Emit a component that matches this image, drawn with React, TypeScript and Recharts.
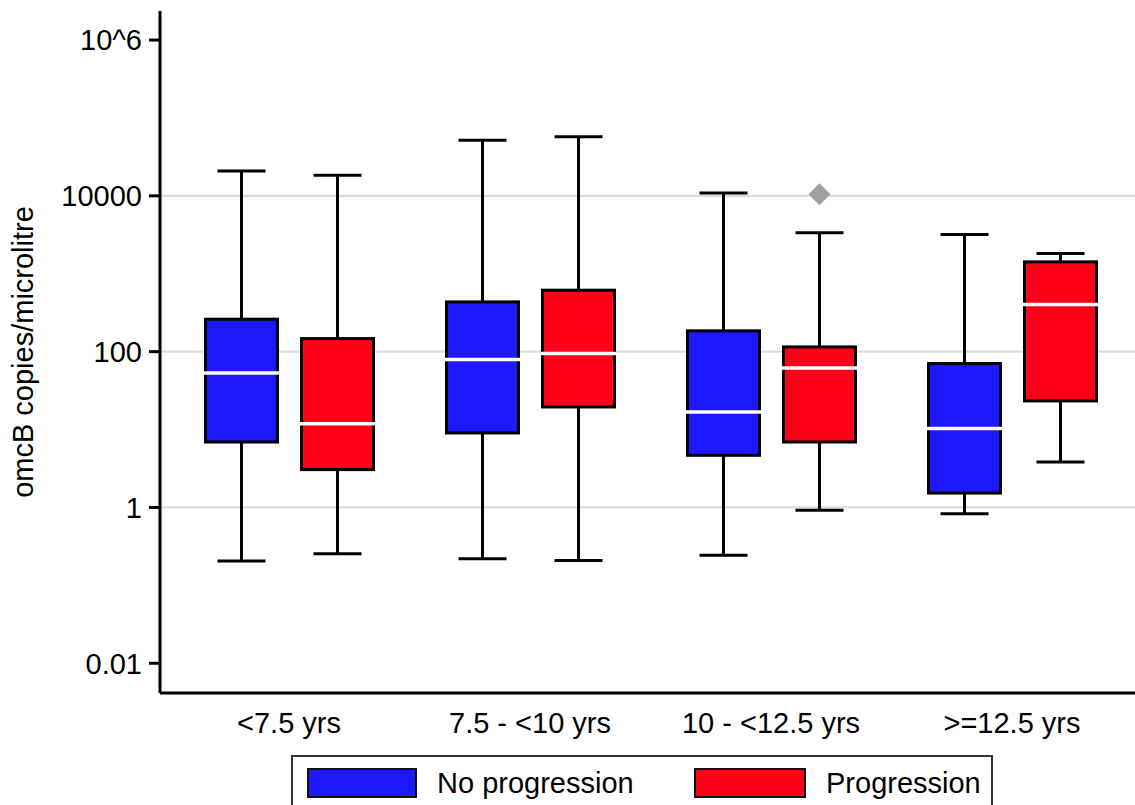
import React from 'react';
import { ComposedChart, Bar, XAxis, YAxis, CartesianGrid } from 'recharts';

const categories = ['<7.5 yrs', '7.5 - <10 yrs', '10 - <12.5 yrs', '>=12.5 yrs'];

const noProgMin = [0.205, 0.22, 0.243, 0.832];
const noProgQ1 = [6.92, 9.04, 4.67, 1.53];
const noProgMedian = [53.2, 79, 16.8, 10.3];
const noProgQ3 = [261, 435, 185, 70.3];
const noProgMax = [20900, 51900, 10900, 3190];
const noProgOutliers: number[][] = [[], [], [], []];

const progMin = [0.255, 0.209, 0.918, 3.83];
const progQ1 = [3.06, 19.5, 6.92, 23.3];
const progMedian = [11.9, 94.4, 61.8, 403];
const progQ3 = [147, 615, 115, 1420];
const progMax = [18400, 57300, 3350, 1820];
const progOutliers: number[][] = [[], [], [10500], []];

const yTicks = [0.01, 1, 100, 10000, 1000000];
const gridValues = [1, 100, 10000];
const yDomain = [0.00415, 2360000];

const seriesNames = ['No progression', 'Progression'];
const BLUE = '#1e18ff';
const RED = '#ff0018';
const FONT = '"Liberation Sans", Arial, Helvetica, sans-serif';

const data = categories.map((c, i) => ({
  category: c,
  np: { min: noProgMin[i], q1: noProgQ1[i], med: noProgMedian[i], q3: noProgQ3[i], max: noProgMax[i], out: noProgOutliers[i] },
  p: { min: progMin[i], q1: progQ1[i], med: progMedian[i], q3: progQ3[i], max: progMax[i], out: progOutliers[i] },
  npRange: [noProgMin[i], noProgMax[i]],
  pRange: [progMin[i], progMax[i]],
}));

const makeBoxShape = (key: 'np' | 'p', color: string) => (props: any) => {
  const { x, y, width, height, payload } = props;
  const s = payload[key];
  const top = Math.min(y, y + height);
  const h = Math.abs(height);
  const lhi = Math.log10(s.max);
  const llo = Math.log10(s.min);
  const py = (v: number) => top + (h * (lhi - Math.log10(v))) / (lhi - llo);
  const cx = x + width / 2;
  const cap = width / 3;
  const sw = 3;
  return (
    <g>
      <line x1={cx} x2={cx} y1={py(s.max)} y2={py(s.q3)} stroke="#000" strokeWidth={sw} />
      <line x1={cx} x2={cx} y1={py(s.q1)} y2={py(s.min)} stroke="#000" strokeWidth={sw} />
      <line x1={cx - cap} x2={cx + cap} y1={py(s.max)} y2={py(s.max)} stroke="#000" strokeWidth={sw} />
      <line x1={cx - cap} x2={cx + cap} y1={py(s.min)} y2={py(s.min)} stroke="#000" strokeWidth={sw} />
      <rect x={x} y={py(s.q3)} width={width} height={py(s.q1) - py(s.q3)} fill={color} stroke="#000" strokeWidth={3} />
      <line x1={x - 1.5} x2={x + width + 1.5} y1={py(s.med)} y2={py(s.med)} stroke="#fff" strokeWidth={3.5} />
      {s.out.map((o: number, k: number) => {
        const oy = py(o);
        const r = 11;
        return (
          <polygon key={k} points={`${cx},${oy - r} ${cx + r},${oy} ${cx},${oy + r} ${cx - r},${oy}`} fill="#a0a0a0" />
        );
      })}
    </g>
  );
};

const YLabel = () => (
  <text
    x={23}
    y={352}
    transform="rotate(-90, 23, 352)"
    textAnchor="middle"
    dominantBaseline="central"
    fontSize={29}
    fontFamily={FONT}
    fill="#000"
  >
    omcB copies/microlitre
  </text>
);

const fmt = (v: number) => (v === 1000000 ? '10^6' : String(v));

export default function App() {
  return (
    <div style={{ position: 'absolute', left: 0, top: 0, width: 1135, height: 805, overflow: 'hidden', background: '#fff' }}>
      <ComposedChart
        width={1150}
        height={805}
        data={data}
        margin={{ top: 11, right: 9, bottom: 52, left: 0 }}
        barGap={24}
      >
        <CartesianGrid vertical={false} horizontalValues={gridValues} stroke="#dcdcdc" strokeWidth={2.2} />
        <XAxis
          dataKey="category"
          type="category"
          padding={{ left: 8.5, right: 8.5 }}
          height={60}
          tickLine={false}
          tickSize={0}
          tickMargin={19}
          axisLine={{ stroke: '#000', strokeWidth: 3 }}
          tick={{ fontSize: 29, fill: '#000', fontFamily: FONT }}
          interval={0}
        />
        <XAxis
          xAxisId="top"
          dataKey="category"
          orientation="top"
          height={0}
          tick={false}
          tickLine={false}
          axisLine={{ stroke: '#000', strokeWidth: 3 }}
        />
        <YAxis
          type="number"
          scale="log"
          domain={yDomain}
          allowDataOverflow
          ticks={yTicks}
          tickFormatter={fmt}
          width={160}
          tickSize={11}
          tickMargin={7}
          tickLine={{ stroke: '#000', strokeWidth: 3 }}
          axisLine={{ stroke: '#000', strokeWidth: 3 }}
          tick={{ fontSize: 29, fill: '#000', fontFamily: FONT }}
          interval={0}
          label={<YLabel />}
        />
        <Bar
          dataKey="npRange"
          name={seriesNames[0]}
          fill={BLUE}
          barSize={72}
          isAnimationActive={false}
          shape={makeBoxShape('np', BLUE)}
        />
        <Bar
          dataKey="pRange"
          name={seriesNames[1]}
          fill={RED}
          barSize={72}
          isAnimationActive={false}
          shape={makeBoxShape('p', RED)}
        />
      </ComposedChart>
      <div
        style={{
          position: 'absolute',
          left: 291,
          top: 755,
          width: 702,
          height: 70,
          border: '2px solid #333',
          boxSizing: 'border-box',
          fontFamily: FONT,
          fontSize: 29,
          color: '#000',
        }}
      >
        <div style={{ position: 'absolute', left: 14, top: 11, width: 110, height: 30, background: BLUE, border: '2.5px solid #111', boxSizing: 'border-box' }} />
        <div style={{ position: 'absolute', left: 144, top: 10, height: 32, lineHeight: '32px', whiteSpace: 'nowrap' }}>{seriesNames[0]}</div>
        <div style={{ position: 'absolute', left: 401, top: 11, width: 112, height: 30, background: RED, border: '2.5px solid #111', boxSizing: 'border-box' }} />
        <div style={{ position: 'absolute', left: 533, top: 10, height: 32, lineHeight: '32px', whiteSpace: 'nowrap' }}>{seriesNames[1]}</div>
      </div>
    </div>
  );
}
